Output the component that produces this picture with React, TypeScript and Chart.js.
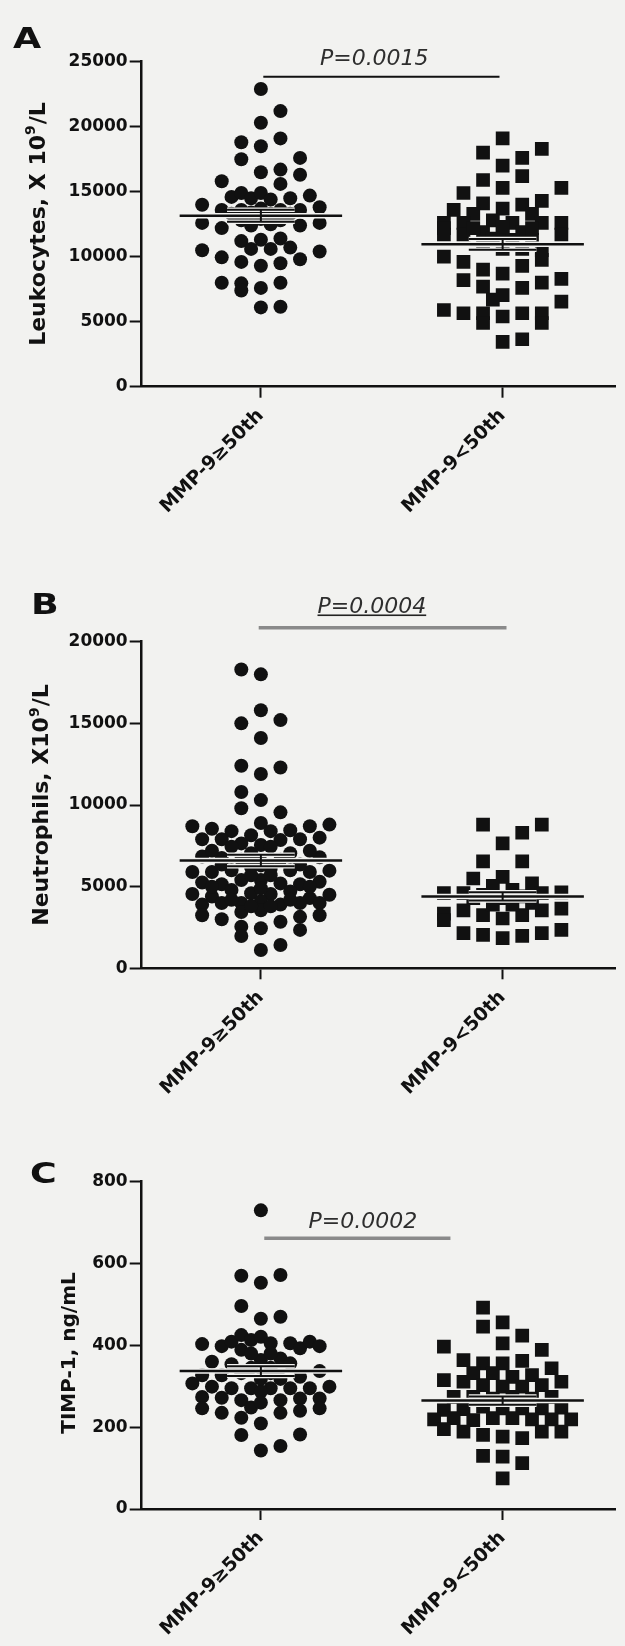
import { useEffect, useRef } from 'react';
import { Chart, registerables } from 'chart.js';

Chart.register(...registerables);

const FONT = '"DejaVu Sans", "Liberation Sans", sans-serif';
const BG = '#f2f2f0';
const INK = '#111111';

// ---- categories ----
const groupLabels = ['MMP-9\u226550th', 'MMP-9<50th'];

// ---- Panel A: Leukocytes ----
const leukHighY = [22900, 21200, 20300, 19100, 18800, 18500, 17500, 17600, 16500, 16700, 16300, 15600, 15800, 14600, 14900, 14500, 14900, 14400, 14500, 14700, 14000, 13800, 13600, 13600, 13300, 13400, 13700, 13300, 13600, 13300, 13600, 12600, 12600, 12200, 12400, 12800, 12900, 12800, 11200, 11300, 11400, 10600, 10600, 10700, 10500, 10400, 9950, 9800, 9600, 9500, 9300, 8000, 7950, 7400, 8000, 7600, 6100, 6150, 12400, 12500];
const leukHighCol = [0, 2, 0, 2, -2, 0, -2, 4, 0, 2, 4, 2, -4, -3, -2, -1, 0, 1, 3, 5, -6, 6, -4, -2, -3, -1, 0, 1, 2, 3, 4, -6, 6, -4, 4, -2, 0, 2, -2, 0, 2, -1, 1, 3, -6, 6, -4, 4, -2, 2, 0, -4, -2, -2, 2, 0, 0, 2, -1, 1];
const leukLowY = [19100, 18300, 18000, 17600, 17000, 16200, 15900, 15300, 15300, 14900, 14300, 14100, 14000, 13700, 13600, 13300, 13300, 12600, 12600, 12600, 12800, 12600, 12600, 11700, 11700, 11700, 11900, 11900, 11900, 11000, 10600, 10600, 10500, 10000, 9750, 9600, 9300, 9000, 8700, 8300, 8200, 8000, 7700, 7600, 7050, 6700, 6550, 5900, 5650, 5650, 4900, 5400, 5650, 5650, 4900, 3450, 3650, 12200, 12300, 12200, 11400, 11300, 11300, 12200];
const leukLowCol = [0, 4, -2, 2, 0, 2, -2, 6, 0, -4, 4, -2, 2, 0, -5, -3, 3, 6, -6, -4, -1, 1, 4, -6, -4, 6, -2, 0, 2, -2, 0, 2, 4, -6, 4, -4, 2, -2, 0, 6, -4, 4, -2, 2, 0, -1, 6, -6, -4, -2, -2, 0, 2, 4, 4, 0, 2, -3, 0, 3, -1, 1, 3, -6];
const leukMeans = [13150, 10950];
const leukSems = [460, 420];

// ---- Panel B: Neutrophils ----
const neutHighY = [18300, 18000, 15800, 15000, 15200, 14100, 12400, 12300, 11900, 10800, 10300, 9800, 9550, 8700, 8550, 8400, 8150, 8900, 8400, 8450, 8700, 8800, 7900, 7900, 7850, 7900, 8000, 7650, 7550, 7450, 7450, 7050, 7050, 6850, 6750, 6800, 6650, 6650, 6550, 5900, 5900, 6000, 6000, 6200, 6100, 5900, 5980, 5250, 5150, 5150, 5400, 5400, 5200, 5300, 4550, 4400, 4800, 4600, 4550, 4700, 4300, 4500, 3900, 3900, 4000, 4000, 4000, 4000, 4100, 3250, 3250, 3000, 3450, 3550, 2850, 3150, 2550, 2450, 2350, 1980, 1430, 1120, 6350, 6350, 5700, 5700, 5000, 5000, 4900, 4200, 4200, 3800, 3800, 7200, 7200, 6300];
const neutHighCol = [-2, 0, 0, -2, 2, 0, -2, 2, 0, -2, 0, -2, 2, -7, -5, -3, -1, 0, 1, 3, 5, 7, -6, -4, 2, 4, 6, -2, 0, -3, 1, -1, 3, -6, -4, 6, -2, 2, 0, -7, -5, -3, 3, -1, 1, 5, 7, -6, -4, 4, -2, 0, 2, 6, -7, -5, -3, -1, 1, 3, 5, 7, -6, 2, -4, -2, 4, 6, 0, -6, 6, -4, -2, 0, 2, 4, -2, 0, 4, -2, 2, 0, -4, 4, -1, 1, -5, 5, 0, -3, 3, -1, 1, -5, 5, 0];
const neutLowY = [8800, 8800, 8300, 7650, 6550, 6550, 5500, 5600, 5200, 5050, 4600, 4600, 4500, 4800, 4600, 4650, 4300, 4300, 4400, 3350, 2950, 3550, 3250, 3050, 3250, 3550, 3650, 3900, 3900, 4000, 2150, 2050, 1850, 1980, 2150, 2350];
const neutLowCol = [-2, 4, 2, 0, -2, 2, -3, 0, 3, -1, -6, -4, -2, 1, 4, 6, -3, 0, 2, -6, -6, -4, -2, 0, 2, 4, 6, -1, 1, 3, -4, -2, 0, 2, 4, 6];
const neutMeans = [6600, 4400];
const neutSems = [350, 250];

// ---- Panel C: TIMP-1 ----
const timpHighY = [730, 570, 553, 572, 496, 465, 470, 403, 398, 409, 425, 389, 413, 421, 405, 405, 393, 409, 398, 360, 354, 364, 368, 356, 337, 307, 327, 327, 332, 332, 323, 299, 295, 295, 295, 295, 295, 299, 274, 272, 287, 266, 270, 270, 266, 248, 260, 246, 235, 235, 240, 246, 223, 209, 181, 182, 143, 154, 345, 345, 318, 318, 380, 380];
const timpHighCol = [0, -2, 0, 2, -2, 0, 2, -6, -4, -3, -2, -2, -1, 0, 1, 3, 4, 5, 6, -5, -3, 0, 2, 3, 6, -7, -6, -4, -2, 1, 4, -5, -3, -1, 1, 3, 5, 7, -6, -4, 0, 2, 4, 6, -2, -1, 0, -6, -4, 2, 4, 6, -2, 0, -2, 4, 0, 2, -1, 1, 0, 2, 1, -1];
const timpLowY = [492, 446, 456, 424, 405, 397, 389, 364, 362, 356, 356, 344, 315, 311, 332, 332, 323, 327, 311, 303, 299, 299, 303, 274, 274, 270, 274, 270, 274, 242, 244, 250, 246, 246, 246, 248, 219, 222, 217, 222, 222, 219, 219, 219, 195, 189, 181, 177, 173, 189, 189, 130, 128, 112, 75];
const timpLowCol = [-2, -2, 0, 2, 0, -6, 4, -4, 2, -2, 0, 5, -6, -4, -3, -1, 1, 3, 6, -2, 0, 2, 4, -5, -3, -1, 1, 3, 5, -6, -4, -2, 0, 2, 4, 6, -7, -5, -3, -1, 1, 3, 5, 7, -6, -4, -2, 0, 2, 4, 6, -2, 0, 2, 0];
const timpMeans = [337, 265];
const timpSems = [12, 10];

// ---- layout constants ----
const COL_STEP = 0.0405;
const MEAN_HALF = 0.336;
const CAP_HALF = 0.14;
const X_MIN = -0.493;
const X_MAX = 1.466;
const Y_AXIS_W = 141.7;

type TitlePart = { t: string; sup?: boolean };

interface PanelCfg {
  canvasTop: number;
  canvasH: number;
  areaTop: number;
  areaBottom: number;
  yMax: number;
  yStep: number;
  highY: number[];
  highCol: number[];
  lowY: number[];
  lowCol: number[];
  means: number[];
  sems: number[];
  sig: { x0: number; x1: number; y: number; color: string; width: number };
  pText: string;
  pX: number;
  pY: number;
  underline: boolean;
  letter: string;
  letterX: number;
  letterY: number;
  title: TitlePart[];
  titleX: number;
  titleY: number;
  titleSize: number;
}

const annotPlugin = {
  id: 'annot',
  afterDraw(chart: any, _args: any, o: any) {
    const { ctx, scales } = chart;
    // panel letter
    ctx.save();
    ctx.fillStyle = INK;
    ctx.font = `bold 28px ${FONT}`;
    ctx.textBaseline = 'alphabetic';
    ctx.textAlign = 'left';
    ctx.translate(o.letterX, o.letterY);
    ctx.scale(1.3, 1);
    ctx.fillText(o.letter, 0, 0);
    ctx.restore();

    // y-axis title (rotated)
    ctx.save();
    ctx.fillStyle = INK;
    ctx.textBaseline = 'alphabetic';
    ctx.textAlign = 'left';
    const s = o.titleSize;
    const mainFont = `bold ${s}px ${FONT}`;
    const supFont = `bold ${Math.round(s * 0.65)}px ${FONT}`;
    let total = 0;
    const widths: number[] = [];
    for (const part of o.title as TitlePart[]) {
      ctx.font = part.sup ? supFont : mainFont;
      const w = ctx.measureText(part.t).width + (part.sup ? 1 : 0);
      widths.push(w);
      total += w;
    }
    ctx.translate(o.titleX, o.titleY);
    ctx.rotate(-Math.PI / 2);
    let cx = -total / 2;
    const base = s * 0.36;
    (o.title as TitlePart[]).forEach((part, i) => {
      ctx.font = part.sup ? supFont : mainFont;
      ctx.fillText(part.t, cx, part.sup ? base - s * 0.42 : base);
      cx += widths[i];
    });
    ctx.restore();

    // p-value text
    ctx.save();
    const px = scales.x.getPixelForValue(o.pX);
    const py = scales.y.getPixelForValue(o.pY);
    ctx.font = `italic 22px ${FONT}`;
    ctx.fillStyle = '#2e2e2e';
    ctx.textAlign = 'center';
    ctx.textBaseline = 'alphabetic';
    ctx.fillText(o.pText, px, py);
    if (o.underline) {
      const w = ctx.measureText(o.pText).width;
      ctx.fillStyle = '#222';
      ctx.fillRect(px - w / 2, py + 1.5, w, 1.6);
    }
    ctx.restore();
  },
};

function buildConfig(p: PanelCfg): any {
  const pts = (g: number, cols: number[], ys: number[]) => ys.map((y, i) => ({ x: g + cols[i] * COL_STEP, y }));
  const meanSeg = (g: number, m: number) => [
    { x: g - MEAN_HALF, y: m },
    { x: g + MEAN_HALF, y: m },
  ];
  const capSeg = (g: number, m: number, e: number) => [
    { x: g - CAP_HALF, y: m + e },
    { x: g + CAP_HALF, y: m + e },
    { x: g, y: null },
    { x: g - CAP_HALF, y: m - e },
    { x: g + CAP_HALF, y: m - e },
  ];
  const vertSeg = (g: number, m: number, e: number) => [
    { x: g, y: m - e },
    { x: g, y: m + e },
  ];
  const lineDs = (data: any[], color: string, width: number, order: number, extra: any = {}) => ({
    data,
    showLine: true,
    borderColor: color,
    backgroundColor: color,
    borderWidth: width,
    borderCapStyle: 'butt',
    pointRadius: 0,
    pointHoverRadius: 0,
    spanGaps: false,
    order,
    ...extra,
  });

  const datasets: any[] = [
    {
      data: pts(0, p.highCol, p.highY),
      pointStyle: 'circle',
      pointRadius: 7,
      pointHoverRadius: 7,
      backgroundColor: INK,
      borderColor: INK,
      borderWidth: 0,
      order: 5,
    },
    {
      data: pts(1, p.lowCol, p.lowY),
      pointStyle: 'rect',
      pointRadius: 9.7,
      pointHoverRadius: 9.7,
      backgroundColor: INK,
      borderColor: INK,
      borderWidth: 0,
      order: 5,
    },
  ];
  [0, 1].forEach((g) => {
    datasets.push(lineDs(meanSeg(g, p.means[g]), BG, 5.5, 3));
    datasets.push(lineDs(capSeg(g, p.means[g], p.sems[g]), BG, 4.5, 3));
    datasets.push(lineDs(meanSeg(g, p.means[g]), INK, 2.5, 1));
    datasets.push(lineDs(capSeg(g, p.means[g], p.sems[g]), INK, 2, 1));
    datasets.push(lineDs(vertSeg(g, p.means[g], p.sems[g]), INK, 2, 1));
  });
  datasets.push(
    lineDs(
      [
        { x: p.sig.x0, y: p.sig.y },
        { x: p.sig.x1, y: p.sig.y },
      ],
      p.sig.color,
      p.sig.width,
      0,
      { clip: false }
    )
  );

  const tickFont = { family: FONT, size: 17, weight: 'bold' };
  return {
    type: 'scatter',
    data: { datasets },
    plugins: [annotPlugin],
    options: {
      responsive: false,
      animation: false,
      events: [],
      layout: { padding: { top: p.areaTop, left: 0, right: 0, bottom: 0 } },
      plugins: {
        legend: { display: false },
        tooltip: { enabled: false },
        annot: {
          pText: p.pText,
          pX: p.pX,
          pY: p.pY,
          underline: p.underline,
          letter: p.letter,
          letterX: p.letterX,
          letterY: p.letterY,
          title: p.title,
          titleX: p.titleX,
          titleY: p.titleY,
          titleSize: p.titleSize,
        },
      },
      scales: {
        x: {
          type: 'linear',
          min: X_MIN,
          max: X_MAX,
          afterBuildTicks: (s: any) => {
            s.ticks = [{ value: 0 }, { value: 1 }];
          },
          afterFit: (s: any) => {
            s.height = p.canvasH - p.areaBottom;
            s.paddingLeft = 0;
            s.paddingRight = 0;
          },
          ticks: {
            autoSkip: false,
            minRotation: 45,
            maxRotation: 45,
            padding: 7,
            color: INK,
            font: { family: FONT, size: 19, weight: 'bold' },
            callback: (v: any) => groupLabels[v] ?? '',
          },
          grid: {
            display: true,
            drawOnChartArea: false,
            drawTicks: true,
            tickLength: 11,
            tickColor: INK,
            tickWidth: 2,
          },
          border: { display: true, color: INK, width: 2.5 },
        },
        y: {
          type: 'linear',
          min: 0,
          max: p.yMax,
          afterFit: (s: any) => {
            s.width = Y_AXIS_W;
          },
          ticks: {
            stepSize: p.yStep,
            padding: 2,
            color: INK,
            font: tickFont,
            callback: (v: any) => String(v),
          },
          grid: {
            display: true,
            drawOnChartArea: false,
            drawTicks: true,
            tickLength: 12,
            tickColor: INK,
            tickWidth: 2,
          },
          border: { display: true, color: INK, width: 2.5 },
        },
      },
    },
  };
}

const panels: PanelCfg[] = [
  {
    canvasTop: 0,
    canvasH: 560,
    areaTop: 61.7,
    areaBottom: 386.7,
    yMax: 25000,
    yStep: 5000,
    highY: leukHighY,
    highCol: leukHighCol,
    lowY: leukLowY,
    lowCol: leukLowCol,
    means: leukMeans,
    sems: leukSems,
    sig: { x0: 0.01, x1: 0.987, y: 23850, color: INK, width: 2 },
    pText: 'P=0.0015',
    pX: 0.469,
    pY: 24750,
    underline: false,
    letter: 'A',
    letterX: 13,
    letterY: 48,
    title: [{ t: 'Leukocytes, X 10' }, { t: '9', sup: true }, { t: '/L' }],
    titleX: 36.7,
    titleY: 224,
    titleSize: 22,
  },
  {
    canvasTop: 560,
    canvasH: 545,
    areaTop: 81.7,
    areaBottom: 408.3,
    yMax: 20000,
    yStep: 5000,
    highY: neutHighY,
    highCol: neutHighCol,
    lowY: neutLowY,
    lowCol: neutLowCol,
    means: neutMeans,
    sems: neutSems,
    sig: { x0: -0.009, x1: 1.016, y: 20860, color: '#8a8a8a', width: 3.5 },
    pText: 'P=0.0004',
    pX: 0.459,
    pY: 21760,
    underline: true,
    letter: 'B',
    letterX: 31,
    letterY: 54,
    title: [{ t: 'Neutrophils, X10' }, { t: '9', sup: true }, { t: '/L' }],
    titleX: 40,
    titleY: 245,
    titleSize: 22,
  },
  {
    canvasTop: 1105,
    canvasH: 541,
    areaTop: 76.7,
    areaBottom: 404,
    yMax: 800,
    yStep: 200,
    highY: timpHighY,
    highCol: timpHighCol,
    lowY: timpLowY,
    lowCol: timpLowCol,
    means: timpMeans,
    sems: timpSems,
    sig: { x0: 0.014, x1: 0.784, y: 662, color: '#8a8a8a', width: 3.5 },
    pText: 'P=0.0002',
    pX: 0.422,
    pY: 686,
    underline: false,
    letter: 'C',
    letterX: 30,
    letterY: 78,
    title: [{ t: 'TIMP-1, ng/mL' }],
    titleX: 68,
    titleY: 248,
    titleSize: 20,
  },
];

function Panel({ cfg }: { cfg: PanelCfg }) {
  const ref = useRef<HTMLCanvasElement | null>(null);
  useEffect(() => {
    if (!ref.current) return;
    const chart = new Chart(ref.current, buildConfig(cfg));
    return () => chart.destroy();
  }, [cfg]);
  return (
    <canvas
      ref={ref}
      width={625}
      height={cfg.canvasH}
      style={{ position: 'absolute', left: 0, top: cfg.canvasTop, width: 625, height: cfg.canvasH, display: 'block' }}
    />
  );
}

export default function App() {
  return (
    <div style={{ position: 'absolute', left: 0, top: 0, width: 625, height: 1646, background: BG, overflow: 'hidden' }}>
      {panels.map((p, i) => (
        <Panel key={i} cfg={p} />
      ))}
    </div>
  );
}
